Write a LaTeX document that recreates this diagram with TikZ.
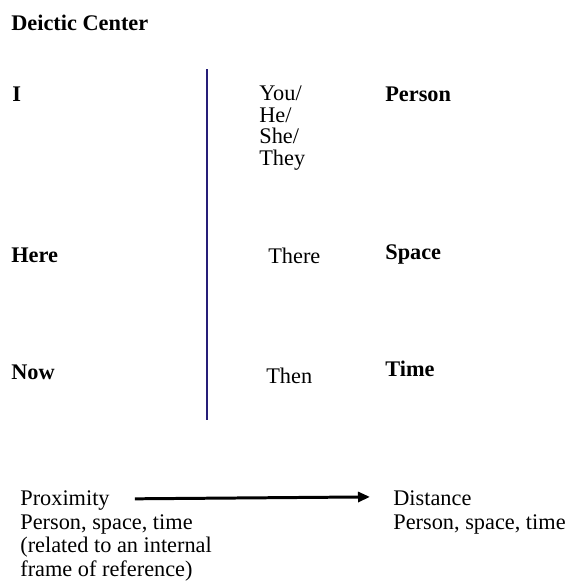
\documentclass[tikz,border=0pt]{standalone}
\usepackage{fontspec}
\setmainfont{Liberation Serif}
\usepackage{xcolor}
\usetikzlibrary{arrows.meta, positioning}
\definecolor{divider}{RGB}{38,30,120}

\begin{document}
\begin{tikzpicture}[font=\fontsize{12.7}{13.37}\selectfont,
		every node/.style={inner sep=0pt, anchor=base west, align=left},
		heading/.style={font=\fontsize{12.7}{13.37}\selectfont\bfseries}]
			\useasboundingbox (0,0) rectangle (11.36,-11.62);
			\node[heading] (deictic) at (0.22,-0.60) {Deictic Center};
			% divider between the two columns
			\draw[divider, line width=1.1pt] (4.14,-1.38) -- (4.14,-8.40);
			\node[heading] (i) at (0.24,-2.02) {I};
			% multi-line nodes sit on the baseline of their last line
			\node[font=\fontsize{12.7}{12.25}\selectfont] (you) at (5.18,-3.31) {You/\\He/\\She/\\They};
			\node[heading] (person) at (7.70,-2.02) {Person};
			\node[heading] (here) at (0.22,-5.24) {Here};
			\node (there) at (5.36,-5.26) {There};
			\node[heading] (space) at (7.70,-5.18) {Space};
			\node[heading] (now) at (0.22,-7.58) {Now};
			\node (then) at (5.32,-7.66) {Then};
			\node[heading] (time) at (7.70,-7.52) {Time};
			\node (prox) at (0.40,-10.11) {Proximity};
			\node (proxsub) at (0.40,-11.52) {Person, space, time\\(related to an internal\\frame of reference)};
			\node (dist) at (7.86,-10.11) {Distance};
			\node (distsub) at (7.86,-10.58) {Person, space, time};
			\draw[-{Triangle[length=0.24cm, width=0.2cm]}, line width=1.7pt,
			shorten <=0.5cm, shorten >=0.46cm]
			([yshift=0.03cm]prox.east) -- ([yshift=0.03cm]dist.west);
		\end{tikzpicture}
\end{document}
